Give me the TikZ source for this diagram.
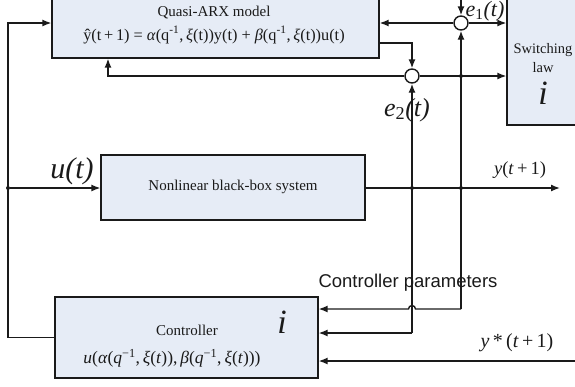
\documentclass[tikz,border=0pt]{standalone}
\usepackage{fontspec}
\setmainfont{Liberation Serif}
\newfontfamily\arialfont{Liberation Sans}
\usetikzlibrary{arrows.meta}
\definecolor{boxfill}{HTML}{E6ECF6}
\definecolor{ink}{HTML}{1A1A1A}
\newcommand\fs[1]{\fontsize{#1}{#1}\selectfont}
\begin{document}
\begin{tikzpicture}[x=1pt,y=-1pt,
  box/.style={draw=ink,fill=boxfill,line width=1.3pt,inner sep=0pt},
  ln/.style={draw=ink,line width=1.4pt},
  arr/.style={ln,-{Latex[length=9pt,width=7pt]}},
  sum/.style={circle,draw=ink,fill=white,line width=1.4pt,minimum size=14pt,inner sep=0pt},
  dot/.style={circle,fill=ink,minimum size=4pt,inner sep=0pt},
  txt/.style={font=\fs{14.5},text=ink,inner sep=0pt},
  big/.style={font=\fs{26}\itshape,text=ink,inner sep=0pt}]
\useasboundingbox (0,0) rectangle (575,386);
\clip (0,0) rectangle (575,386);
% blocks
\node[box,minimum width=327pt,minimum height=73pt] (quasi) at (215.5,21.5) {};
\node[box,minimum width=264pt,minimum height=65pt] (plant) at (233,187.5) {};
\node[box,minimum width=263pt,minimum height=81pt] (ctrl) at (186.5,337.5) {};
\node[box,minimum width=90pt,minimum height=145pt] (sw) at (552,52.5) {};
% block texts
\node[txt,font=\fs{15}] (qtitle) at (214,13) {Quasi-ARX model};
\node[txt,font=\fs{16.3}] (qeq) at (214,35) {ŷ(t\,+\,1) = \textit{α}(q\textsuperscript{-1},\,\textit{ξ}(t))y(t) + \textit{β}(q\textsuperscript{-1},\,\textit{ξ}(t))u(t)};
\node[txt,font=\fs{15}] (ptext) at (233,187) {Nonlinear black-box system};
\node[txt,font=\fs{15}] (ctitle) at (187,330) {Controller};
\node[txt,font=\fs{17.5}] (ceq) at (172,358) {\textit{u}(\textit{α}(\textit{q}\textsuperscript{−1},\,\textit{ξ}(\textit{t})),\,\textit{β}(\textit{q}\textsuperscript{−1},\,\textit{ξ}(\textit{t})))};
\node[font=\fs{34}\itshape,text=ink,inner sep=0pt] (ci) at (282,322) {i};
\node[txt] (swt) at (543,50) {Switching};
\node[txt] (swl) at (543,68) {law};
\node[font=\fs{34}\itshape,text=ink,inner sep=0pt] (swi) at (543,93) {i};
% junctions
\node[sum] (e1) at (461,23) {};
\node[sum] (e2) at (412,76) {};
\node[dot] (dl) at (8,188) {};
\node[dot] (d1) at (412,188) {};
\node[dot] (d2) at (461,188) {};
\node[dot] (d3) at (461,76) {};
% helper coordinates
\coordinate (tl) at (8,23);
\coordinate (top) at (461,-3);
\coordinate (yout) at (560,188);
\coordinate (yref) at (578,361);
\coordinate (qo) at (412,43);
\coordinate (fb) at (108,76);
\coordinate (p1) at (461,309);
\coordinate (p2) at (412,333);
\coordinate (hopR) at (415.5,309);
% connectors
\draw[arr] (ctrl.west) -- (ctrl.west -| tl) -- (tl) -- (quasi.west |- tl);
\draw[arr] (dl) -- (plant.west |- dl);
\draw[arr] (plant.east |- dl) -- (yout);
\draw[arr] (e1.west) -- (quasi.east |- e1);
\draw[arr] (e1.east) -- (sw.west |- e1);
\draw[arr] (top) -- (e1.north);
\draw[arr] (quasi.east |- qo) -- (qo) -- (e2.north);
\draw[arr] (e2.west) -- (fb) -- (quasi.south -| fb);
\draw[arr] (e2.east) -- (sw.west |- e2);
\draw[arr] (p2) -- (e2.south);
\draw[arr] (p1) -- (e1.south);
\draw[arr] (p1) -- (hopR) arc[start angle=0,end angle=180,radius=3.5pt] -- (ctrl.east |- p1);
\draw[arr] (p2) -- (ctrl.east |- p2);
\draw[arr] (yref) -- (ctrl.east |- yref);
% signal labels
\node[big,font=\fs{22}\itshape] (le1) at (485,11) {e\textsubscript{\upshape 1}(t)};
\node[big] (le2) at (407,110) {e\textsubscript{\upshape 2}(t)};
\node[big,font=\fs{30}\itshape] (lu) at (72,171) {u(t)};
\node[txt,font=\fs{18.5}] (ly) at (520,170) {\textit{y}(\textit{t}\,+\,1)};
\node[txt,font=\fs{20}] (lyr) at (517,343) {\textit{y}\,*\,(\textit{t}\,+\,1)};
\node[font=\arialfont\fs{18.5},text=ink,inner sep=0pt] (lcp) at (408,283) {Controller parameters};
\end{tikzpicture}
\end{document}
